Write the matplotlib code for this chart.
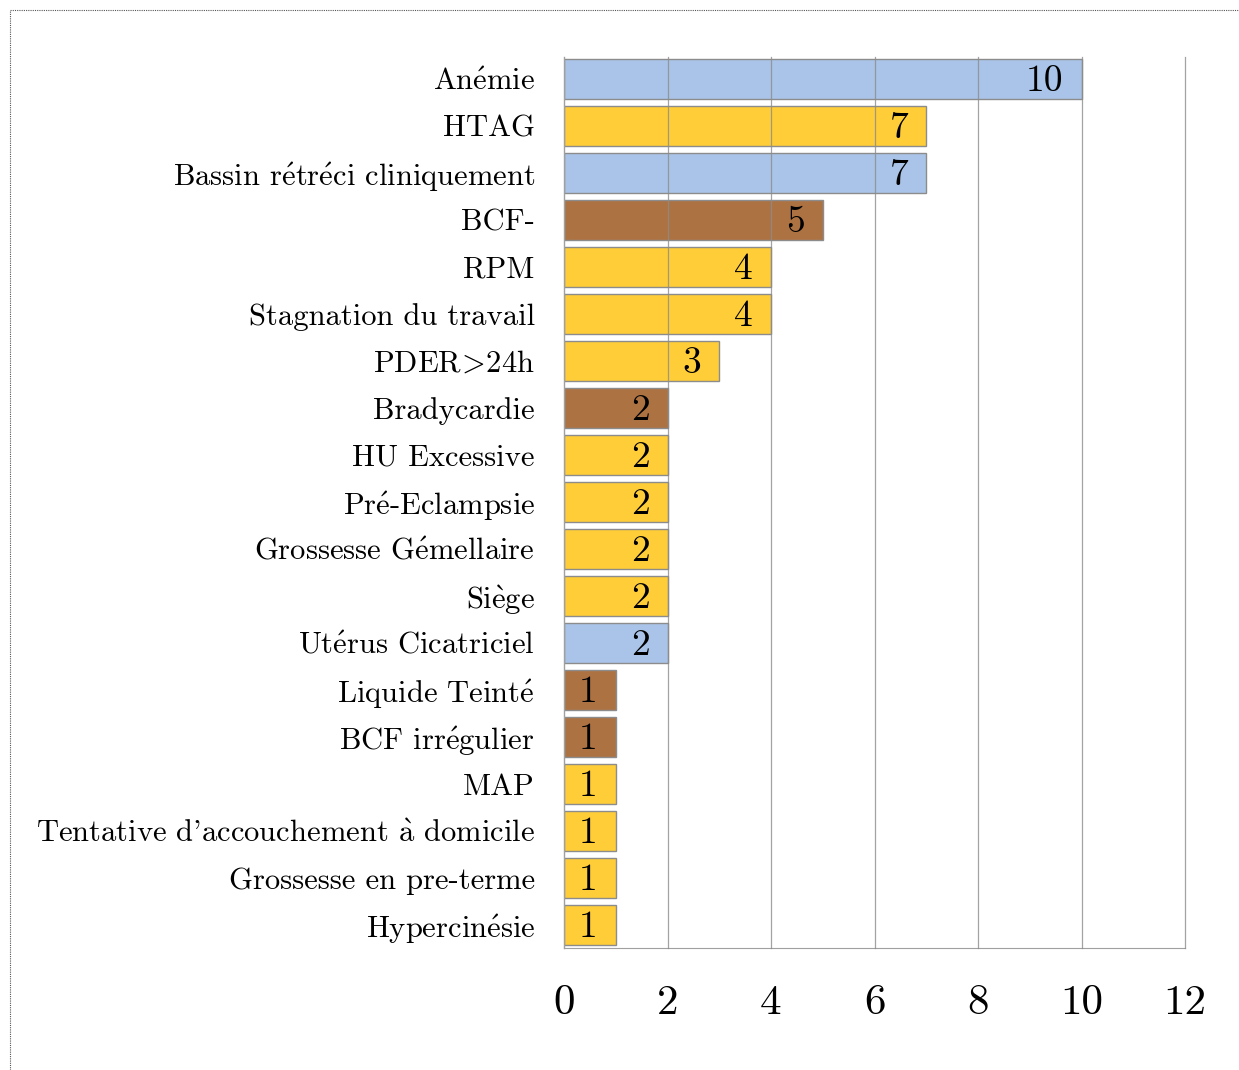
import numpy as np
import matplotlib.pyplot as plt
from matplotlib.patches import Rectangle

plt.rcParams['font.family'] = ['cmr10', 'DejaVu Serif']
plt.rcParams['mathtext.fontset'] = 'cm'
plt.rcParams['axes.formatter.use_mathtext'] = True

# Data (top to bottom)
categories = ['Anémie', 'HTAG', 'Bassin rétréci cliniquement', 'BCF-', 'RPM',
              'Stagnation du travail', 'PDER>24h', 'Bradycardie', 'HU Excessive',
              'Pré-Eclampsie', 'Grossesse Gémellaire', 'Siège', 'Utérus Cicatriciel',
              'Liquide Teinté', 'BCF irrégulier', 'MAP',
              'Tentative d\u2019accouchement à domicile', 'Grossesse en pre-terme',
              'Hypercinésie']
values = [10, 7, 7, 5, 4, 4, 3, 2, 2, 2, 2, 2, 2, 1, 1, 1, 1, 1, 1]
groups = ['b', 'y', 'b', 'r', 'y', 'y', 'y', 'r', 'y', 'y', 'y', 'y', 'b',
          'r', 'r', 'y', 'y', 'y', 'y']
palette = {'b': '#a9c4e8', 'y': '#ffcd38', 'r': '#ad7242'}

# cmr10 has no accented glyphs: build them with mathtext accents
subs = {'é': r'$\acute{\mathrm{e}}$', 'è': r'$\grave{\mathrm{e}}$',
        'à': r'$\grave{\mathrm{a}}$', '>': r'$\!>\!$', '\u2019': "'"}


def tex_label(s):
    return ''.join(subs.get(c, c) for c in s)


fig = plt.figure(figsize=(12.39, 10.70), dpi=100)
ax = fig.add_axes([564 / 1239, 1 - 948 / 1070, 621 / 1239, 891 / 1070])

y = np.arange(len(categories))
cols = [palette[g] for g in groups]
ax.barh(y, values, height=0.85, color=cols, edgecolor='#8c8c8c', linewidth=1.0, zorder=1)

for yi, v in zip(y, values):
    ax.annotate(str(v), (v, yi), xytext=(-13, -2), textcoords='offset points',
                ha='right', va='center', fontsize=27, zorder=4)

ax.set_xlim(0, 12)
ax.set_ylim(len(categories) - 0.51, -0.47)
ax.set_xticks(range(0, 13, 2))
ax.set_xticklabels([str(t) for t in range(0, 13, 2)], fontsize=31)
ax.set_yticks(y)
ax.set_yticklabels([tex_label(c) for c in categories], fontsize=22)
ax.tick_params(axis='both', length=0)
ax.tick_params(axis='x', pad=26)
ax.tick_params(axis='y', pad=21)

for tx in range(2, 13, 2):
    ax.axvline(tx, color='#8c8c8c', linewidth=0.9, alpha=0.8, zorder=3, clip_on=False)
ax.axvline(0, color='#a0a0a0', linewidth=1.0, zorder=3, clip_on=False)

for s in ['top', 'right', 'left']:
    ax.spines[s].set_visible(False)
ax.spines['bottom'].set_color('#a0a0a0')

# dotted frame around the figure
fig.patches.append(Rectangle((10 / 1239, -0.02), 1.1, 1 - 10 / 1070 + 0.02,
                             transform=fig.transFigure, fill=False,
                             linestyle=(0, (1, 1)), linewidth=0.8, edgecolor='#555555'))

fig.savefig('out.png', dpi=100)
